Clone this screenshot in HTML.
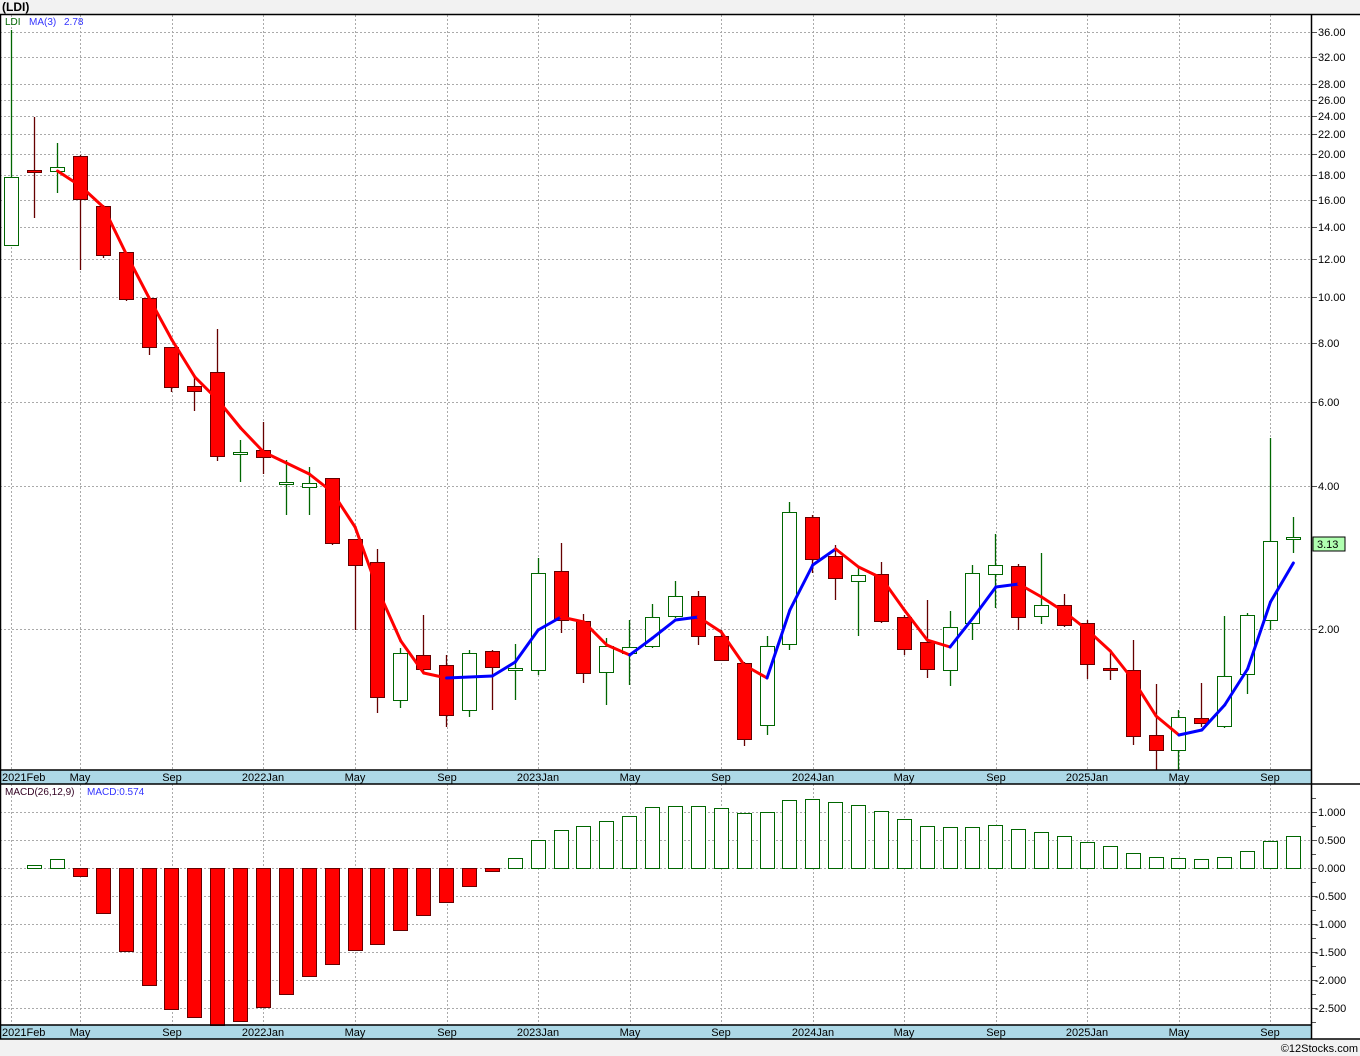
<!DOCTYPE html>
<html><head><meta charset="utf-8"><style>
html,body{margin:0;padding:0;background:#f2f2f2;}
svg{display:block;font-family:"Liberation Sans",sans-serif;}
</style></head><body>
<svg id="s" width="1360" height="1056" xmlns="http://www.w3.org/2000/svg">
<rect x="0" y="0" width="1360" height="1056" fill="#f2f2f2"/>
<rect x="0" y="14" width="1311" height="756" fill="#fff"/>
<rect x="1311" y="14" width="49" height="770" fill="#fff"/>
<rect x="0" y="784" width="1311" height="241" fill="#fff"/>
<rect x="1311" y="784" width="49" height="255" fill="#fff"/>
<rect x="0" y="770" width="1311" height="14" fill="#add8e6"/>
<rect x="0" y="1025" width="1311" height="14" fill="#add8e6"/>
<g id="grid" stroke="#aaa" stroke-dasharray="2,2" stroke-width="1"></g>
<g id="ticks" stroke="#555" stroke-width="1"></g>
<g id="plot"></g>
<g stroke="#000" stroke-width="1.5" fill="none">
<line x1="0" y1="14.5" x2="1360" y2="14.5"/>
<line x1="1311.5" y1="14" x2="1311.5" y2="1039"/>
<line x1="0" y1="770" x2="1311" y2="770"/>
<line x1="0" y1="784" x2="1360" y2="784"/>
<line x1="0" y1="1025" x2="1311" y2="1025"/>
<line x1="0" y1="1039" x2="1360" y2="1039"/>
<line x1="0.5" y1="14" x2="0.5" y2="1039"/>
</g>
<text x="2" y="11" font-size="12" font-weight="bold" fill="#000">(LDI)</text>
<text x="5" y="25" font-size="10" fill="#060">LDI</text>
<text x="29" y="25" font-size="10" fill="#33f">MA(3)</text>
<text x="64" y="25" font-size="10" fill="#33f">2.78</text>
<text x="5" y="795" font-size="10" fill="#302">MACD(26,12,9)</text>
<text x="87" y="795" font-size="10" fill="#33f">MACD:0.574</text>
<g font-size="11" fill="#000">
<text x="1318" y="36">36.00</text><text x="1318" y="61">32.00</text><text x="1318" y="88">28.00</text>
<text x="1318" y="104">26.00</text><text x="1318" y="120">24.00</text><text x="1318" y="138">22.00</text>
<text x="1318" y="158">20.00</text><text x="1318" y="179">18.00</text><text x="1318" y="204">16.00</text>
<text x="1318" y="231">14.00</text><text x="1318" y="263">12.00</text><text x="1318" y="301">10.00</text>
<text x="1318" y="347">8.00</text><text x="1318" y="406">6.00</text><text x="1318" y="490">4.00</text>
<text x="1318" y="633">2.00</text>
<text x="1318" y="816">1.000</text><text x="1318" y="844">0.500</text><text x="1318" y="872">0.000</text>
<text x="1315" y="900">-0.500</text><text x="1315" y="928">-1.000</text><text x="1315" y="956">-1.500</text>
<text x="1315" y="984">-2.000</text><text x="1315" y="1012">-2.500</text>
</g>
<rect x="1313" y="537" width="32" height="14" fill="#b0ffb0" stroke="#000"/>
<text x="1317" y="548" font-size="11" fill="#000">3.13</text>
<g font-size="11" fill="#000" id="mlab1">
<text x="2" y="781">2021Feb</text><text x="80" y="781" text-anchor="middle">May</text><text x="172" y="781" text-anchor="middle">Sep</text>
<text x="263" y="781" text-anchor="middle">2022Jan</text><text x="355" y="781" text-anchor="middle">May</text><text x="447" y="781" text-anchor="middle">Sep</text>
<text x="538" y="781" text-anchor="middle">2023Jan</text><text x="630" y="781" text-anchor="middle">May</text><text x="721" y="781" text-anchor="middle">Sep</text>
<text x="813" y="781" text-anchor="middle">2024Jan</text><text x="904" y="781" text-anchor="middle">May</text><text x="996" y="781" text-anchor="middle">Sep</text>
<text x="1087" y="781" text-anchor="middle">2025Jan</text><text x="1179" y="781" text-anchor="middle">May</text><text x="1270" y="781" text-anchor="middle">Sep</text>
</g>
<g font-size="11" fill="#000">
<text x="2" y="1036">2021Feb</text><text x="80" y="1036" text-anchor="middle">May</text><text x="172" y="1036" text-anchor="middle">Sep</text>
<text x="263" y="1036" text-anchor="middle">2022Jan</text><text x="355" y="1036" text-anchor="middle">May</text><text x="447" y="1036" text-anchor="middle">Sep</text>
<text x="538" y="1036" text-anchor="middle">2023Jan</text><text x="630" y="1036" text-anchor="middle">May</text><text x="721" y="1036" text-anchor="middle">Sep</text>
<text x="813" y="1036" text-anchor="middle">2024Jan</text><text x="904" y="1036" text-anchor="middle">May</text><text x="996" y="1036" text-anchor="middle">Sep</text>
<text x="1087" y="1036" text-anchor="middle">2025Jan</text><text x="1179" y="1036" text-anchor="middle">May</text><text x="1270" y="1036" text-anchor="middle">Sep</text>
</g>
<text x="1358" y="1052" font-size="11" fill="#000" text-anchor="end">©12Stocks.com</text>
</svg>
<script>
var NS="http://www.w3.org/2000/svg";
function el(p,t,a){var e=document.createElementNS(NS,t);for(var k in a)e.setAttribute(k,a[k]);p.appendChild(e);return e;}
var grid=document.getElementById('grid'),plot=document.getElementById('plot'),ticks=document.getElementById('ticks');
var gx=[11,80,172,263,355,447,538,630,721,813,904,996,1087,1179,1270];
gx.forEach(function(x){el(grid,'line',{x1:x+.5,y1:15,x2:x+.5,y2:770});el(grid,'line',{x1:x+.5,y1:784,x2:x+.5,y2:1025});});
[32,57,84,100,116,134,154,175,200,227,259,297,343,402,486,629].forEach(function(y){el(grid,'line',{x1:0,y1:y+.5,x2:1311,y2:y+.5});el(ticks,'line',{x1:1311,y1:y+.5,x2:1317,y2:y+.5});});
[812,840,868,896,924,952,980,1008].forEach(function(y){el(grid,'line',{x1:0,y1:y+.5,x2:1311,y2:y+.5});el(ticks,'line',{x1:1311,y1:y+.5,x2:1317,y2:y+.5});});
for(var y=798;y<1025;y+=14)el(ticks,'line',{x1:1311,y1:y+.5,x2:1316,y2:y+.5});
// candles: [type, bodyTop, bodyBot, high, low]  type g=hollow green, r=red
var C=[['g',177,245,30,245],['r',170,172,117,218],['g',167,171,143,193],['r',156,199,155,270],['r',206,255,205,258],
['r',252,299,252,301],['r',298,347,298,355],['r',347,387,347,392],['r',386,391,375,411],['r',372,456,329,461],
['g',452,454,440,482],['r',450,457,422,474],['g',482,484,460,515],['g',483,487,467,515],['r',478,543,478,545],
['r',539,565,539,630],['r',562,697,549,713],['g',653,700,648,708],['r',655,669,615,672],['r',665,715,655,727],
['g',653,710,650,717],['r',651,667,650,710],['g',668,670,644,700],['g',573,670,558,675],['r',571,620,543,633],
['r',621,673,614,683],['g',646,672,638,705],['g',647,653,620,685],['g',617,646,604,648],['g',596,616,581,618],
['r',596,636,591,645],['r',636,660,630,661],['r',663,739,662,746],['g',646,725,636,735],['g',512,644,502,650],
['r',517,559,515,573],['r',556,578,545,600],['g',575,581,568,636],['r',574,621,562,623],['r',617,649,615,655],
['r',642,669,600,678],['g',627,670,611,686],['g',573,623,565,640],['g',565,574,534,608],['r',566,617,564,630],
['g',605,616,553,624],['r',605,625,594,627],['r',623,664,620,679],['r',668,670,653,680],['r',670,736,640,745],
['r',735,750,684,770],['g',717,750,710,770],['r',718,723,683,727],['g',676,726,616,728],['g',615,674,613,694],
['g',541,620,438,630],['g',537,538,517,553]];
function X(i){return 11.3+22.885*i;}
C.forEach(function(c,i){var x=Math.round(X(i));var g=c[0]=='g';var col=g?'#060':'#600';
el(plot,'line',{x1:x+.5,y1:c[3],x2:x+.5,y2:c[4],stroke:col,'stroke-width':1.3});
var h=Math.max(c[2]-c[1],2);
el(plot,'rect',{x:x-6.5,y:c[1]+.5,width:14,height:h,fill:g?'#fff':'#f00',stroke:col,'stroke-width':1});});
var M=[null,null,171,186,207,254,298,340,377,400,428,452,463,474,492,527,590,641,673,678,677,676,662,630,617,622,645,655,638,620,617,632,665,678,610,565,549,567,578,610,640,647,618,587,584,597,612,630,651,680,716,735,730,705,669,602,563];
for(var i=3;i<M.length;i++){var up=M[i]<M[i-1];el(plot,'line',{x1:X(i-1)+.5,y1:M[i-1],x2:X(i)+.5,y2:M[i],stroke:up?'#00f':'#f00','stroke-width':3,'stroke-linecap':'round'});}
var D=[868,865,859,876,913,951,985,1009,1017,1025,1021,1007,994,976,964,950,944,930,915,902,886,871,858,840,830,826,821,816,807,806,806,808,813,812,800,799,802,805,811,819,826,827,827,825,829,832,836,842,846,853,857,858,859,857,851,841,836];
D.forEach(function(v,i){if(i==0)return;var x=Math.round(X(i));var g=v<868;
var y1=g?v:868,h=Math.abs(v-868);
el(plot,'rect',{x:x-6.5,y:y1+.5,width:14,height:Math.max(h,2),fill:g?'#fff':'#f00',stroke:g?'#060':'#600','stroke-width':1});});
</script>
</body></html>
